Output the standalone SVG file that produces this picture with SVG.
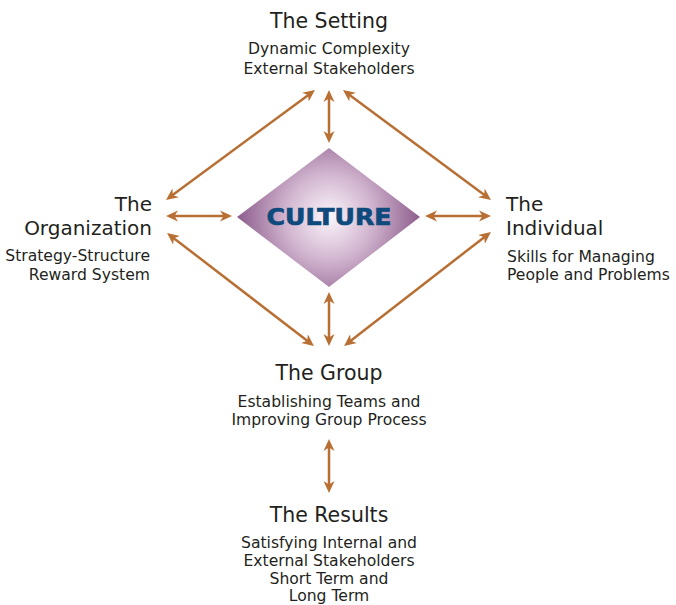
<svg xmlns="http://www.w3.org/2000/svg" width="676" height="605" viewBox="0 0 676 605">
<style>
.t{font-family:"DejaVu Sans","Liberation Sans",sans-serif;fill:#231f20;}
.h{font-size:20.5px;}
.h2{font-size:20px;}
.s{font-size:15.6px;}
.c{text-anchor:middle;}
.r{text-anchor:end;}
.l{text-anchor:start;}
.a{stroke:#b86f33;stroke-width:2.5;fill:none;marker-start:url(#ah);marker-end:url(#ah);}
</style>
<defs>
<marker id="ah" markerUnits="userSpaceOnUse" markerWidth="14" markerHeight="14" viewBox="0 -7 14 14" refX="8" refY="0" orient="auto-start-reverse">
<path d="M0,-5.5 L12,0 L0,5.5 L3.5,0 Z" fill="#b86f33"/>
</marker>
<radialGradient id="g" gradientUnits="userSpaceOnUse" cx="329" cy="217" r="95">
<stop offset="0" stop-color="#fbf6fb"/>
<stop offset="0.45" stop-color="#d2b6d0"/>
<stop offset="1" stop-color="#875687"/>
</radialGradient>
</defs>
<rect width="676" height="605" fill="#ffffff"/>
<g id="connectors">
<path class="a" d="M329,94 L329,139"/>
<path class="a" d="M311.8,92.4 L169.2,197.6"/>
<path class="a" d="M346.2,92.4 L487.8,197.6"/>
<path class="a" d="M170,216 L228,216"/>
<path class="a" d="M429,216 L487,216"/>
<path class="a" d="M170.2,235.4 L310.8,343.6"/>
<path class="a" d="M487.8,234.4 L347.2,343.6"/>
<path class="a" d="M329,296 L329,342"/>
<path class="a" d="M329,443 L329,489"/>
</g>
<g id="culture">
<polygon points="329,148 420,217 329,287 237,217" fill="url(#g)"/>
<text x="329" y="225" text-anchor="middle" textLength="125" lengthAdjust="spacingAndGlyphs" style="font-family:'DejaVu Sans','Liberation Sans',sans-serif;font-weight:bold;font-size:22.5px;fill:#0f4a7c;stroke:#0f4a7c;stroke-width:0.7;">CULTURE</text>
</g>
<g id="setting">
<text class="t h c" x="329" y="28">The Setting</text>
<text class="t s c" x="329" y="54"><tspan x="329">Dynamic Complexity</tspan><tspan x="329" dy="20">External Stakeholders</tspan></text>
</g>
<g id="organization">
<text class="t h2 r" x="152" y="211"><tspan x="152">The</tspan><tspan x="152" dy="24">Organization</tspan></text>
<text class="t s r" x="150" y="261"><tspan x="150">Strategy-Structure</tspan><tspan x="150" dy="19">Reward System</tspan></text>
</g>
<g id="individual">
<text class="t h2 l" x="506" y="211"><tspan x="506">The</tspan><tspan x="506" dy="24">Individual</tspan></text>
<text class="t s l" x="507" y="262"><tspan x="507">Skills for Managing</tspan><tspan x="507" dy="18">People and Problems</tspan></text>
</g>
<g id="group">
<text class="t h c" x="329" y="380">The Group</text>
<text class="t s c" x="329" y="407"><tspan x="329">Establishing Teams and</tspan><tspan x="329" dy="18">Improving Group Process</tspan></text>
</g>
<g id="results">
<text class="t h c" x="329" y="522">The Results</text>
<text class="t s c" x="329" y="548"><tspan x="329">Satisfying Internal and</tspan><tspan x="329" dy="18">External Stakeholders</tspan><tspan x="329" dy="18">Short Term and</tspan><tspan x="329" dy="17">Long Term</tspan></text>
</g>
</svg>
